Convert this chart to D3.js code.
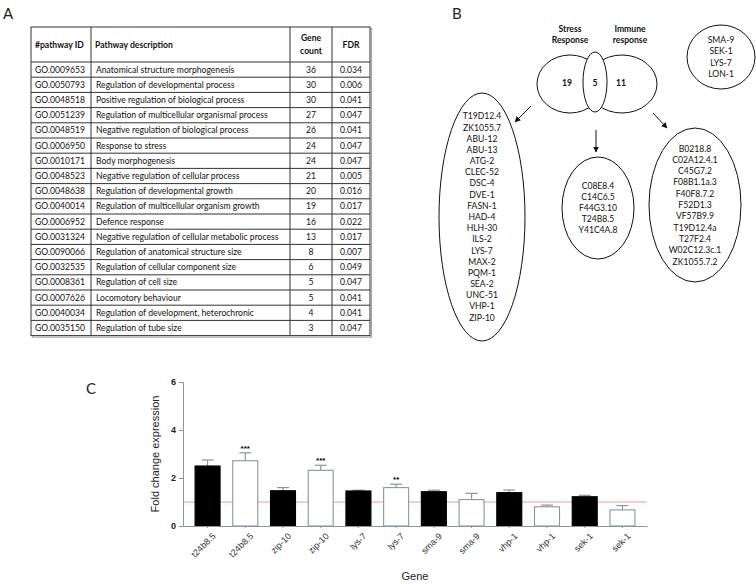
<!DOCTYPE html>
<html><head><meta charset="utf-8">
<script src="https://cdn.jsdelivr.net/npm/d3@7"></script>
<style>body{margin:0;background:#fff}svg{display:block}</style>
</head><body>
<script>
// ---------- Panel A data ----------
const pathwayIds = ["GO.0009653","GO.0050793","GO.0048518","GO.0051239","GO.0048519","GO.0006950","GO.0010171","GO.0048523","GO.0048638","GO.0040014","GO.0006952","GO.0031324","GO.0090066","GO.0032535","GO.0008361","GO.0007626","GO.0040034","GO.0035150"];
const pathwayDescriptions = ["Anatomical structure morphogenesis","Regulation of developmental process","Positive regulation of biological process","Regulation of multicellular organismal process","Negative regulation of biological process","Response to stress","Body morphogenesis","Negative regulation of cellular process","Regulation of developmental growth","Regulation of multicellular organism growth","Defence response","Negative regulation of cellular metabolic process","Regulation of anatomical structure size","Regulation of cellular component size","Regulation of cell size","Locomotory behaviour","Regulation of development, heterochronic","Regulation of tube size"];
const geneCounts = [36,30,30,27,26,24,24,21,20,19,16,13,8,6,5,5,4,3];
const fdrValues = ["0.034","0.006","0.041","0.047","0.041","0.047","0.047","0.005","0.016","0.017","0.022","0.017","0.007","0.049","0.047","0.041","0.041","0.047"];
const tableHeaders = ["#pathway ID","Pathway description","Gene|count","FDR"];

// ---------- Panel B data ----------
const vennLabels = ["Stress|Response","Immune|response"];
const vennCounts = [19,5,11];
const stressOnlyGenes = ["T19D12.4","ZK1055.7","ABU-12","ABU-13","ATG-2","CLEC-52","DSC-4","DVE-1","FASN-1","HAD-4","HLH-30","ILS-2","LYS-7","MAX-2","PQM-1","SEA-2","UNC-51","VHP-1","ZIP-10"];
const overlapGenes = ["C08E8.4","C14C6.5","F44G3.10","T24B8.5","Y41C4A.8"];
const immuneOnlyGenes = ["B0218.8","C02A12.4.1","C45G7.2","F08B1.1a.3","F40F8.7.2","F52D1.3","VF57B9.9","T19D12.4a","T27F2.4","W02C12.3c.1","ZK1055.7.2"];
const otherGenes = ["SMA-9","SEK-1","LYS-7","LON-1"];

// ---------- Panel C data ----------
const genes = ["t24b8.5","zip-10","lys-7","sma-9","vhp-1","sek-1"];
const blackMeans = [2.50,1.47,1.46,1.43,1.39,1.22];
const blackErr   = [0.25,0.13,0.03,0.06,0.11,0.06];
const whiteMeans = [2.72,2.32,1.60,1.10,0.80,0.67];
const whiteErr   = [0.33,0.21,0.14,0.26,0.07,0.18];
const whiteSig   = ["***","***","**","","",""];
const yTicks = [0,2,4,6];
const referenceLevel = 1;

const W = 756, H = 584;
const svg = d3.select("body").append("svg").attr("width", W).attr("height", H);
const calibri = "Lato, 'Open Sans', sans-serif";
const arial = "'Liberation Sans', Arial, sans-serif";

// panel letters
[["A",3,19],["B",452,19],["C",86,394]].forEach(([t,x,y]) =>
  svg.append("text").attr("x",x).attr("y",y).attr("font-family",calibri).attr("font-size",15).attr("fill","#222").text(t));

// ---------- Table ----------
const colX = [31,91,290,332,370];
const tTop = 27, hdrBottom = 62, rowH = 15.2;
const nRows = pathwayIds.length;
const tBottom = hdrBottom + nRows*rowH;
const tg = svg.append("g").attr("font-family", calibri).attr("font-size", 8.6).attr("fill","#111");
tg.append("rect").attr("x",colX[0]+1.5).attr("y",tTop+1.5).attr("width",colX[4]-colX[0]).attr("height",tBottom-tTop).attr("fill","none").attr("stroke","#aaa").attr("stroke-width",1.2);
tg.append("rect").attr("x",colX[0]).attr("y",tTop).attr("width",colX[4]-colX[0]).attr("height",tBottom-tTop).attr("fill","#fff").attr("stroke","#333").attr("stroke-width",1);
colX.slice(1,4).forEach(x => tg.append("line").attr("x1",x).attr("x2",x).attr("y1",tTop).attr("y2",tBottom).attr("stroke","#333"));
d3.range(nRows).forEach(i => tg.append("line").attr("x1",colX[0]).attr("x2",colX[4]).attr("y1",hdrBottom+i*rowH).attr("y2",hdrBottom+i*rowH).attr("stroke","#333"));
const hy = (tTop+hdrBottom)/2;
tableHeaders.forEach((h,j) => {
  const parts = h.split("|");
  const center = j>=2;
  const x = center ? (colX[j]+colX[j+1])/2 : colX[j]+4;
  parts.forEach((p,k) => {
    tg.append("text").attr("x",x).attr("y",hy + (k-(parts.length-1)/2)*13 + 3)
      .attr("text-anchor", center?"middle":"start").attr("font-weight","bold").text(p);
  });
});
d3.range(nRows).forEach(i => {
  const y = hdrBottom + (i+0.5)*rowH + 3;
  tg.append("text").attr("x",colX[0]+4).attr("y",y).text(pathwayIds[i]);
  tg.append("text").attr("x",colX[1]+5).attr("y",y).text(pathwayDescriptions[i]);
  tg.append("text").attr("x",(colX[2]+colX[3])/2).attr("y",y).attr("text-anchor","middle").text(geneCounts[i]);
  tg.append("text").attr("x",(colX[3]+colX[4])/2).attr("y",y).attr("text-anchor","middle").text(fdrValues[i]);
});

// ---------- Venn ----------
const vg = svg.append("g").attr("font-family", calibri).attr("fill","none").attr("stroke","#111").attr("stroke-width",1);
vg.append("ellipse").attr("cx",570).attr("cy",84).attr("rx",33).attr("ry",29);
vg.append("ellipse").attr("cx",622).attr("cy",84).attr("rx",35).attr("ry",29);
vg.append("ellipse").attr("cx",595).attr("cy",82).attr("rx",12).attr("ry",30).attr("fill","#fff");
const vt = svg.append("g").attr("font-family", calibri).attr("font-size",8.6).attr("font-weight","bold").attr("fill","#111").attr("text-anchor","middle");
[[570,vennLabels[0]],[630,vennLabels[1]]].forEach(([x,l]) => l.split("|").forEach((p,k)=> vt.append("text").attr("x",x).attr("y",32+k*11).text(p)));
[[567,vennCounts[0]],[595,vennCounts[1]],[621,vennCounts[2]]].forEach(([x,c]) => vt.append("text").attr("x",x).attr("y",86).text(c));

const lg = svg.append("g").attr("font-family", calibri).attr("font-size",8.6).attr("fill","#111").attr("text-anchor","middle");
function geneEllipse(list, cx, cy, rx, ry, lh){
  vg.append("ellipse").attr("cx",cx).attr("cy",cy).attr("rx",rx).attr("ry",ry);
  list.forEach((g,i) => lg.append("text").attr("x",cx).attr("y",cy + (i-(list.length-1)/2)*lh + 3).text(g));
}
geneEllipse(otherGenes, 721, 57, 34, 32, 11.5);
geneEllipse(stressOnlyGenes, 482, 217, 43, 124, 11.17);
geneEllipse(overlapGenes, 598, 208, 36, 51, 11.1);
geneEllipse(immuneOnlyGenes, 695, 205, 46, 77, 11.3);

const defs = svg.append("defs");
defs.append("marker").attr("id","ah").attr("viewBox","0 0 10 10").attr("refX",9).attr("refY",5)
  .attr("markerWidth",6).attr("markerHeight",6).attr("orient","auto")
  .append("path").attr("d","M0,0L10,5L0,10z").attr("fill","#111");
[[531,106,515,122],[596,130,596,152],[653,113,667,128]].forEach(([x1,y1,x2,y2]) =>
  svg.append("line").attr("x1",x1).attr("y1",y1).attr("x2",x2).attr("y2",y2).attr("stroke","#111").attr("marker-end","url(#ah)"));

// ---------- Bar chart ----------
const slots = [];
genes.forEach((g,i) => {
  slots.push({gene:g, kind:"black", v:blackMeans[i], e:blackErr[i], sig:""});
  slots.push({gene:g, kind:"white", v:whiteMeans[i], e:whiteErr[i], sig:whiteSig[i]});
});
const x = d3.scaleBand().domain(d3.range(slots.length)).range([183,647]).paddingInner(0.337).paddingOuter(0.32);
const y = d3.scaleLinear().domain([0,6]).range([526,382]);
const axisCol = "#8a969c";
const cg = svg.append("g");
cg.append("line").attr("x1",183).attr("x2",647).attr("y1",y(referenceLevel)).attr("y2",y(referenceLevel)).attr("stroke","#f09aa6").attr("stroke-width",1);
slots.forEach((d,i) => {
  const bx = x(i), bw = x.bandwidth(), cx = bx + bw/2;
  const top = y(d.v), et = y(d.v + d.e);
  cg.append("line").attr("x1",cx).attr("x2",cx).attr("y1",top).attr("y2",et).attr("stroke", axisCol).attr("stroke-width",1.2);
  cg.append("line").attr("x1",cx-6).attr("x2",cx+6).attr("y1",et).attr("y2",et).attr("stroke", axisCol).attr("stroke-width",1.2);
  cg.append("rect").attr("x",bx).attr("y",top).attr("width",bw).attr("height",y(0)-top)
    .attr("fill", d.kind==="black" ? "#000" : "#fff").attr("stroke", d.kind==="black" ? "#000" : axisCol).attr("stroke-width",1.1);
  if (d.sig) cg.append("text").attr("x",cx).attr("y",et-2).attr("text-anchor","middle").attr("font-family",arial).attr("font-weight","bold").attr("font-size",8).text(d.sig);
});
const ya = cg.append("g").attr("transform","translate(183,0)").call(d3.axisLeft(y).tickValues(yTicks).tickFormat(d3.format("d")).tickSize(4).tickPadding(3));
ya.select(".domain").attr("stroke",axisCol);
ya.selectAll(".tick line").attr("stroke",axisCol);
ya.selectAll(".tick text").attr("font-family",arial).attr("font-size",9).attr("font-weight","bold").attr("fill","#222");
const xa = cg.append("g").attr("transform","translate(0,526)").call(d3.axisBottom(x).tickSize(2).tickSizeOuter(0).tickFormat(i => slots[i].gene));
xa.select(".domain").attr("stroke",axisCol);
xa.selectAll(".tick line").attr("stroke",axisCol);
xa.selectAll(".tick text").attr("font-family",arial).attr("font-size",9).attr("fill","#333")
  .attr("text-anchor","end").attr("transform","translate(2,4) rotate(-45)").attr("dy","0.5em").attr("dx","0");
cg.append("text").attr("x",415).attr("y",580).attr("text-anchor","middle").attr("font-family",arial).attr("font-size",11).attr("fill","#222").text("Gene");
cg.append("text").attr("transform","translate(159,454) rotate(-90)").attr("text-anchor","middle").attr("font-family",arial).attr("font-size",11).attr("fill","#222").text("Fold change expression");
</script>
</body></html>
